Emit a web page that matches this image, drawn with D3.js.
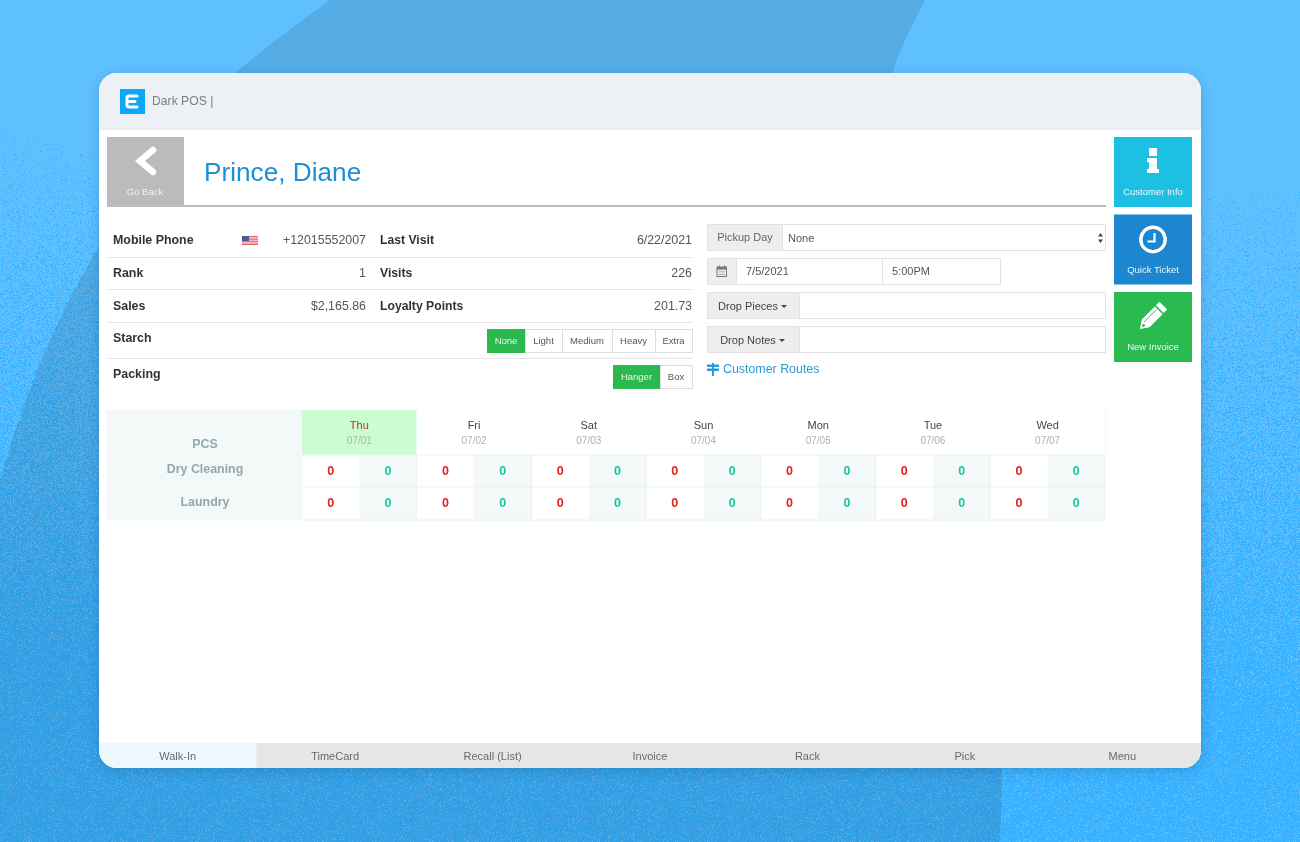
<!DOCTYPE html>
<html>
<head>
<meta charset="utf-8">
<title>Dark POS</title>
<script src="https://cdnjs.cloudflare.com/ajax/libs/d3/7.8.5/d3.min.js"></script>
<style>
  html, body { margin: 0; padding: 0; overflow: hidden; background: #5fc0ff; }
  #bg, #chart { position: absolute; left: 0; top: 0; }
  text { font-family: "Liberation Sans", Arial, sans-serif; }
</style>
</head>
<body>
<canvas id="bg" width="1300" height="842"></canvas>
<svg id="chart" width="1300" height="842"></svg>
<script>
// schedule table
const days = ['Thu', 'Fri', 'Sat', 'Sun', 'Mon', 'Tue', 'Wed'];
const dates = ['07/01', '07/02', '07/03', '07/04', '07/05', '07/06', '07/07'];
const services = ['Dry Cleaning', 'Laundry'];
const dryCleaningDue = [0, 0, 0, 0, 0, 0, 0];
const dryCleaningDone = [0, 0, 0, 0, 0, 0, 0];
const laundryDue = [0, 0, 0, 0, 0, 0, 0];
const laundryDone = [0, 0, 0, 0, 0, 0, 0];

// customer panel
const infoLabels = ['Mobile Phone', 'Rank', 'Sales'];
const infoValues = ['+12015552007', '1', '$2,165.86'];
const statLabels = ['Last Visit', 'Visits', 'Loyalty Points'];
const statValues = ['6/22/2021', '226', '201.73'];
const starch = ['None', 'Light', 'Medium', 'Heavy', 'Extra'];
const packing = ['Hanger', 'Box'];
const tabs = ['Walk-In', 'TimeCard', 'Recall (List)', 'Invoice', 'Rack', 'Pick', 'Menu'];
const sideLabels = ['Customer Info', 'Quick Ticket', 'New Invoice'];
const sideColors = ['#1cc0e3', '#1a87d0', '#2cba4f'];

const GREEN = '#2bb84f';
const BORDER = '#e6e6e6';
const PALE = '#f3f9f9';

// stippled backdrop, dark dots get denser going down the page
const ctx = document.getElementById('bg').getContext('2d');
const img = ctx.createImageData(1300, 842);
for (let y = 0; y < 842; y++) {
  for (let x = 0; x < 1300; x++) {
    let h = (y * 1300 + x + 12345) | 0;
    h = Math.imul(h ^ (h >>> 16), 0x85ebca6b);
    h = Math.imul(h ^ (h >>> 13), 0xc2b2ae35);
    h = Math.imul(h ^ (h >>> 16), 0x27d4eb2f);
    const r = ((h ^ (h >>> 15)) >>> 0) / 4294967296;
    const p = Math.min(0.84, Math.max(0, (y - 175) / 640 + (x < 300 ? (300 - x) / 3000 : 0)));
    const dark = r < p;
    const i = (y * 1300 + x) * 4;
    img.data[i] = dark ? 0x38 : 0x5f;
    img.data[i + 1] = dark ? 0xb1 : 0xc0;
    img.data[i + 2] = 0xff;
    img.data[i + 3] = 255;
  }
}
ctx.putImageData(img, 0, 0);

const svg = d3.select('#chart');
const defs = svg.append('defs');

const shadow = defs.append('filter').attr('id', 'shadow')
  .attr('x', '-5%').attr('y', '-5%').attr('width', '110%').attr('height', '112%');
shadow.append('feDropShadow')
  .attr('dx', 0).attr('dy', 3).attr('stdDeviation', 6)
  .attr('flood-color', '#0b3c66').attr('flood-opacity', 0.24);

defs.append('filter').attr('id', 'soft')
  .attr('x', 0).attr('y', 0).attr('width', '100%').attr('height', '100%')
  .append('feGaussianBlur').attr('stdDeviation', 0.35);

defs.append('clipPath').attr('id', 'cardClip')
  .append('rect').attr('x', 99).attr('y', 73).attr('width', 1102).attr('height', 695).attr('rx', 18);

// big darker swoosh behind the card
svg.append('path')
  .attr('d', 'M330,0 L925,0 C905,40 895,60 893,73 C960,250 1015,500 1000,842 L0,842 L0,480 C30,380 60,310 100,245 C140,170 190,110 235,73 C265,48 300,22 330,0 Z')
  .attr('fill', '#000').attr('opacity', 0.1);

svg.append('rect')
  .attr('x', 99).attr('y', 73).attr('width', 1102).attr('height', 695).attr('rx', 18)
  .attr('fill', '#fff').attr('filter', 'url(#shadow)');

const clipped = svg.append('g').attr('clip-path', 'url(#cardClip)');
const card = clipped.append('g').attr('filter', 'url(#soft)');

function label(g, x, y, str, size, color, opts = {}) {
  return g.append('text')
    .attr('x', x).attr('y', y)
    .attr('font-size', size)
    .attr('fill', color)
    .attr('text-anchor', opts.anchor || 'start')
    .attr('font-weight', opts.bold ? 'bold' : 'normal')
    .text(str);
}

function box(g, x, y, w, h, fill, stroke) {
  return g.append('rect')
    .attr('x', x).attr('y', y).attr('width', w).attr('height', h)
    .attr('fill', fill)
    .attr('stroke', stroke || 'none');
}

// top bar
box(card, 99, 73, 1102, 57, '#edf0f5');
box(card, 120, 89, 25, 25, '#0ea9f7');
card.append('path')
  .attr('d', 'M137,96 L129,96 Q127,96 127,98 L127,105 Q127,107 129,107 L137,107 M127,101.5 L135,101.5')
  .attr('fill', 'none').attr('stroke', '#fff').attr('stroke-width', 3).attr('stroke-linecap', 'round');
label(card, 152, 105, 'Dark POS |', 12.2, '#7d7d7d');

// go back + name
box(card, 107, 137, 77, 69, '#bbbbbb');
card.append('path')
  .attr('d', 'M153,150 L140,161 L153,172')
  .attr('fill', 'none').attr('stroke', '#fff').attr('stroke-width', 6.5).attr('stroke-linecap', 'round');
label(card, 145, 195, 'Go Back', 9.5, '#efefef', { anchor: 'middle' });
label(card, 204, 181, 'Prince, Diane', 26.2, '#1a8fd8');
box(card, 107, 205, 999, 2, '#bdbdbd');

// info rows
const rowBase = d3.scaleOrdinal().domain([0, 1, 2]).range([243.5, 276.5, 309.5]);
infoLabels.forEach((d, i) => {
  label(card, 113, rowBase(i), d, 12.4, '#333', { bold: true });
  label(card, 366, rowBase(i), infoValues[i], 12.4, '#555', { anchor: 'end' });
  label(card, 380, rowBase(i), statLabels[i], 12.2, '#333', { bold: true });
  label(card, 692, rowBase(i), statValues[i], 12.4, '#555', { anchor: 'end' });
});
[257, 289, 322, 358].forEach(y => box(card, 107, y, 586, 1, BORDER));
label(card, 113, 342, 'Starch', 12.4, '#333', { bold: true });
label(card, 113, 378, 'Packing', 12.4, '#333', { bold: true });

// little flag
const flag = card.append('g');
d3.range(7).forEach(i => box(flag, 242, 236 + i * 9 / 7, 16, 9 / 7, i % 2 ? '#f4b5bb' : '#e4626c'));
box(flag, 242, 236, 7, 5, '#4b5a9a');

// toggle groups
function toggles(items, edges, y) {
  const g = card.append('g');
  items.forEach((d, i) => {
    const on = i === 0;
    box(g, edges[i] + 0.5, y + 0.5, edges[i + 1] - edges[i], 23, on ? GREEN : '#fff', on ? GREEN : '#ddd');
    label(g, (edges[i] + edges[i + 1]) / 2, y + 15, d, 9.5, on ? '#e8f8ec' : '#555', { anchor: 'middle' });
  });
}
toggles(starch, [487, 525, 562, 612, 655, 692], 329);
toggles(packing, [613, 660, 692], 365);

// right form
const form = card.append('g');
box(form, 707.5, 224.5, 75, 26, '#eeeeee', '#e2e2e2');
label(form, 745, 241, 'Pickup Day', 11, '#666', { anchor: 'middle' });
box(form, 782.5, 224.5, 323, 26, '#fff', '#e2e2e2');
label(form, 788, 241.5, 'None', 11, '#555');
form.append('path').attr('d', 'M1098,236.5 L1100.5,233 L1103,236.5 Z M1098,239.5 L1100.5,243 L1103,239.5 Z').attr('fill', '#444');

box(form, 707.5, 258.5, 29, 26, '#eeeeee', '#e2e2e2');
box(form, 736.5, 258.5, 146, 26, '#fff', '#e2e2e2');
box(form, 882.5, 258.5, 118, 26, '#fff', '#e2e2e2');
box(form, 717, 267, 9.5, 9.5, 'none', '#777');
box(form, 717, 267, 9.5, 2.6, '#777');
[719, 724].forEach(x => box(form, x, 265.5, 1, 2, '#777'));
[271.5, 274].forEach(y => box(form, 718.5, y, 6.5, 0.8, '#999'));
label(form, 746, 275, '7/5/2021', 11, '#555');
label(form, 892, 275, '5:00PM', 11, '#555');

[['Drop Pieces', 292], ['Drop Notes', 326]].forEach(([name, y]) => {
  box(form, 707.5, y + 0.5, 92, 26, '#eeeeee', '#e2e2e2');
  box(form, 799.5, y + 0.5, 306, 26, '#fff', '#e2e2e2');
  label(form, 748, y + 18, name, 11, '#444', { anchor: 'middle' });
  const cx = name === 'Drop Pieces' ? 784 : 782;
  form.append('path').attr('d', `M${cx - 3},${y + 13} L${cx + 3},${y + 13} L${cx},${y + 16} Z`).attr('fill', '#444');
});

// routes link
form.append('path')
  .attr('d', 'M712,363 H714 V364.5 H719 V367 H714 V368.5 H719 L719,368.5 V371 H714 V376 H712 V371 H707 V368.5 H712 V367 H707 V364.5 H712 Z')
  .attr('fill', '#2a9ad8');
label(form, 723, 373, 'Customer Routes', 12.4, '#2a9ad8');

// side buttons
const sideY = d3.scalePoint().domain(sideLabels).range([137, 292]);
sideLabels.forEach((d, i) => {
  box(card, 1114, sideY(d), 78, 70, sideColors[i]);
  label(card, 1153, sideY(d) + 58, d, 9.5, '#e9f8fb', { anchor: 'middle' });
});
card.append('path')
  .attr('d', 'M1149,148 h8 v8 h-8 Z M1147,158 h10 v11 h2 v4 h-12 v-4 h2 v-7 h-2 Z')
  .attr('fill', '#fff');
card.append('circle').attr('cx', 1153).attr('cy', 239.5).attr('r', 12.2)
  .attr('fill', 'none').attr('stroke', '#fff').attr('stroke-width', 3.4);
card.append('path').attr('d', 'M1154.5,233 V241.5 H1147.5')
  .attr('fill', 'none').attr('stroke', '#fff').attr('stroke-width', 2.2);
const pencil = card.append('g').attr('transform', 'translate(1152,317) rotate(45)');
pencil.append('path')
  .attr('d', 'M-5.5,-16 h11 v5 h-11 Z M-5.5,-9.5 h11 V9 L0,17 L-5.5,9 Z')
  .attr('fill', '#fff');
pencil.append('path').attr('d', 'M-2,-8 V9')
  .attr('stroke', GREEN).attr('stroke-width', 0.9);
pencil.append('circle').attr('cx', 0).attr('cy', 12).attr('r', 1.4).attr('fill', GREEN);

// schedule table
const x = d3.scaleBand().domain(days).range([302, 1105]);
const half = d3.scaleBand().domain(['due', 'done']).range([0, x.bandwidth()]);
const y = d3.scaleBand().domain(services).range([455, 520]);
const rowsData = [
  { service: services[0], due: dryCleaningDue, done: dryCleaningDone },
  { service: services[1], due: laundryDue, done: laundryDone }
];

const table = card.append('g');
box(table, 107, 410, 195, 110, PALE);
label(table, 205, 448, 'PCS', 12.4, '#93a8a8', { anchor: 'middle', bold: true });

const head = table.selectAll('g.head').data(days).enter().append('g').attr('class', 'head')
  .attr('transform', d => `translate(${x(d)},410)`);
head.append('rect')
  .attr('width', x.bandwidth()).attr('height', 45)
  .attr('fill', (d, i) => i === 0 ? '#ccfdd1' : '#fff');
head.append('text')
  .attr('x', x.bandwidth() / 2).attr('y', 19)
  .attr('text-anchor', 'middle').attr('font-size', 11)
  .attr('fill', (d, i) => i === 0 ? '#c8281e' : '#444')
  .text(d => d);
head.append('text')
  .attr('x', x.bandwidth() / 2).attr('y', 33.5)
  .attr('text-anchor', 'middle').attr('font-size', 10)
  .attr('fill', '#aab2b2')
  .text((d, i) => dates[i]);

const row = table.selectAll('g.row').data(rowsData).enter().append('g').attr('class', 'row')
  .attr('transform', d => `translate(0,${y(d.service)})`);
row.append('text')
  .attr('x', 205).attr('y', y.bandwidth() / 2 + 2)
  .attr('text-anchor', 'middle').attr('font-size', 12.4).attr('font-weight', 'bold')
  .attr('fill', '#93a8a8')
  .text(d => d.service);

days.forEach((day, i) => {
  row.append('rect')
    .attr('x', x(day) + half('done')).attr('width', half.bandwidth())
    .attr('height', y.bandwidth()).attr('fill', PALE);
  row.append('text')
    .attr('x', x(day) + half('due') + half.bandwidth() / 2).attr('y', y.bandwidth() / 2 + 3.5)
    .attr('text-anchor', 'middle').attr('font-size', 12.5).attr('font-weight', 'bold')
    .attr('fill', '#e02020')
    .text(d => d.due[i]);
  row.append('text')
    .attr('x', x(day) + half('done') + half.bandwidth() / 2).attr('y', y.bandwidth() / 2 + 3.5)
    .attr('text-anchor', 'middle').attr('font-size', 12.5).attr('font-weight', 'bold')
    .attr('fill', '#1bc5a0')
    .text(d => d.done[i]);
});

// table grid
[455, 487, 520].forEach(gy => box(table, 302, gy - 0.5, 804, 1, '#eef1f1'));
box(table, 417, 410, 689, 0.6, '#f5f6f6');
days.forEach(d => box(table, x(d) + x.bandwidth() - 0.5, 455, 1, 65, '#eef1f1'));
box(table, 1105.5, 410, 1, 45, '#f4f5f5');

// bottom tabs
const tabX = d3.scaleBand().domain(tabs).range([99, 1201]);
box(card, 99, 743, 1102, 25, '#e6e6e6');
box(card, tabX(tabs[0]), 743, tabX.bandwidth(), 25, '#eef8ff');
card.selectAll('text.tab').data(tabs).enter().append('text')
  .attr('class', 'tab')
  .attr('x', d => tabX(d) + tabX.bandwidth() / 2)
  .attr('y', 760)
  .attr('text-anchor', 'middle')
  .attr('font-size', 11)
  .attr('fill', '#6a6a6a')
  .text(d => d);
</script>
</body>
</html>
